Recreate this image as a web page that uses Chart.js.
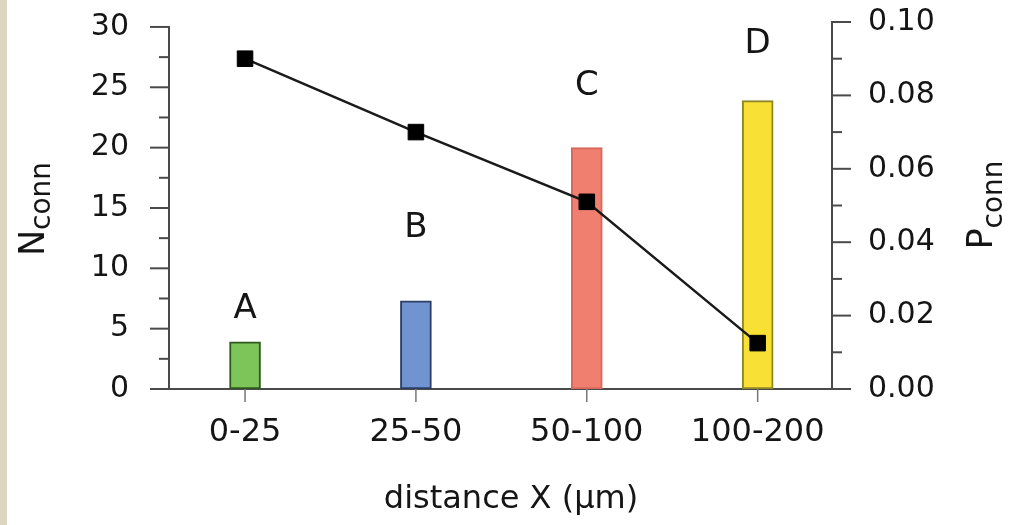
<!DOCTYPE html>
<html lang="en">
<head>
<meta charset="UTF-8">
<title>Nconn and Pconn versus distance</title>
<script src="https://cdn.jsdelivr.net/npm/chart.js"></script>
<style>
    body {
        margin: 0;
        background: #fff;
    }
    .chart-container {
        position: relative;
        width: 1019px;
        height: 525px;
    }
</style>
</head>
<body>
<div class="chart-container">
    <canvas id="connChart"></canvas>
</div>
<script>
// distance bins and the two series
const categories = ['0-25', '25-50', '50-100', '100-200'];
const groupLetters = ['A', 'B', 'C', 'D'];
const nConn = [3.9, 7.3, 20, 23.9];
const pConn = [0.090, 0.070, 0.051, 0.0125];
// where the letters sit, in N_conn units
const letterHeights = [6.6, 13.3, 25.1, 28.6];
const nTicks = [0, 5, 10, 15, 20, 25, 30];
const pTicks = [0, 0.02, 0.04, 0.06, 0.08, 0.10];

const barColors = ['#7dc459', '#7094d1', '#f07f70', '#f8e134'];
const barEdges = ['#2e5a1f', '#2c3d66', '#d5695b', '#8e8529'];

const FONT = "'DejaVu Sans', sans-serif";
const INK = '#151515';
const AXIS = '#4a4a4a';

function seg(ctx, x1, y1, x2, y2) {
    ctx.beginPath();
    ctx.moveTo(x1, y1);
    ctx.lineTo(x2, y2);
    ctx.stroke();
}

// rotated title with a subscript, baseline at bx, centred on cy
function subTitle(ctx, main, sub, bx, cy, drop) {
    ctx.save();
    ctx.translate(bx, cy);
    ctx.rotate(-Math.PI / 2);
    ctx.textAlign = 'left';
    ctx.textBaseline = 'alphabetic';
    ctx.font = `35px ${FONT}`;
    const wm = ctx.measureText(main).width;
    ctx.font = `28px ${FONT}`;
    const ws = ctx.measureText(sub).width;
    const start = -(wm + ws) / 2;
    ctx.font = `35px ${FONT}`;
    ctx.fillText(main, start, 0);
    ctx.font = `28px ${FONT}`;
    ctx.fillText(sub, start + wm, drop);
    ctx.restore();
}

// no automatic margins for overflowing tick labels
function noMargins(s) {
    s.paddingTop = 0;
    s.paddingBottom = 0;
    s.paddingLeft = 0;
    s.paddingRight = 0;
}

const decorations = {
    id: 'decorations',
    beforeDraw(chart) {
        const ctx = chart.ctx;
        ctx.save();
        ctx.fillStyle = '#fff';
        ctx.fillRect(0, 0, chart.width, chart.height);
        ctx.fillStyle = '#dcd6c1';
        ctx.fillRect(0, 0, 7, chart.height);
        ctx.restore();
    },
    afterDraw(chart) {
        const ctx = chart.ctx;
        const a = chart.chartArea;
        const x = chart.scales.x, y = chart.scales.y, y1 = chart.scales.y1;
        ctx.save();
        ctx.strokeStyle = AXIS;
        ctx.lineWidth = 2;
        // left axis line stops at 30
        seg(ctx, a.left, y.getPixelForValue(30) - 1, a.left, a.bottom);
        // left axis: major every 5, minor every 2.5
        for (let v = 0; v <= 30; v += 2.5) {
            const len = v % 5 === 0 ? 19 : 10;
            const py = y.getPixelForValue(v);
            seg(ctx, a.left - len, py, a.left, py);
        }
        // right axis: major every 0.02, minor every 0.01
        for (let i = 0; i <= 10; i++) {
            const len = i % 2 === 0 ? 19 : 10;
            const py = y1.getPixelForValue(i / 100);
            seg(ctx, a.right, py, a.right + len, py);
        }
        ctx.strokeStyle = '#777';
        ctx.lineWidth = 1.5;
        categories.forEach((c, i) => {
            const px = x.getPixelForValue(i);
            seg(ctx, px, a.bottom, px, a.bottom + 13);
        });

        ctx.fillStyle = INK;
        ctx.font = `34px ${FONT}`;
        ctx.textAlign = 'center';
        ctx.textBaseline = 'middle';
        groupLetters.forEach((l, i) => {
            ctx.fillText(l, x.getPixelForValue(i), y.getPixelForValue(letterHeights[i]));
        });

        ctx.textBaseline = 'alphabetic';
        ctx.font = `32px ${FONT}`;
        ctx.fillText('distance X (µm)', 511, 508);

        subTitle(ctx, 'N', 'conn', 44, 209, 6);
        subTitle(ctx, 'P', 'conn', 992, 205, 10);
        ctx.restore();
    }
};

const ctx = document.getElementById('connChart').getContext('2d');
new Chart(ctx, {
    type: 'bar',
    data: {
        datasets: [
            {
                type: 'line',
                data: pConn.map((v, i) => ({ x: i, y: v })),
                yAxisID: 'y1',
                borderColor: '#1a1a1a',
                borderWidth: 2.5,
                pointStyle: 'rect',
                pointRadius: 11,
                pointBackgroundColor: '#000',
                pointBorderColor: '#000',
                pointBorderWidth: 1,
                tension: 0,
                order: 0
            },
            {
                type: 'bar',
                data: nConn.map((v, i) => ({ x: i, y: v })),
                yAxisID: 'y',
                backgroundColor: barColors,
                borderColor: barEdges,
                borderWidth: 2,
                borderSkipped: false,
                barThickness: 31,
                order: 1
            }
        ]
    },
    options: {
        responsive: true,
        maintainAspectRatio: false,
        animation: false,
        layout: { padding: { top: 22, left: 0, right: 0, bottom: 0 } },
        plugins: {
            legend: { display: false },
            tooltip: { enabled: false }
        },
        scales: {
            x: {
                type: 'linear',
                offset: false,
                min: -0.445,
                max: 3.435,
                grid: { display: false, drawTicks: false, offset: false },
                border: { display: true, color: AXIS, width: 2 },
                afterBuildTicks: s => { s.ticks = categories.map((c, i) => ({ value: i })); },
                afterFit: s => { s.height = 136; noMargins(s); },
                ticks: {
                    callback: v => categories[v],
                    font: { family: FONT, size: 32 },
                    color: INK,
                    padding: 24,
                    autoSkip: false,
                    maxRotation: 0
                }
            },
            y: {
                position: 'left',
                min: 0,
                max: 30.41,
                grid: { display: false, drawTicks: false },
                border: { display: false },
                afterBuildTicks: s => { s.ticks = nTicks.map(v => ({ value: v })); },
                afterFit: s => { s.width = 169; noMargins(s); },
                ticks: {
                    font: { family: FONT, size: 30 },
                    color: INK,
                    padding: 40
                }
            },
            y1: {
                position: 'right',
                min: 0,
                max: 0.1,
                grid: { display: false, drawTicks: false },
                border: { display: true, color: AXIS, width: 2 },
                afterBuildTicks: s => { s.ticks = pTicks.map(v => ({ value: v })); },
                afterFit: s => { s.width = 187; noMargins(s); },
                ticks: {
                    callback: v => v.toFixed(2),
                    font: { family: FONT, size: 30 },
                    color: INK,
                    padding: 36
                }
            }
        }
    },
    plugins: [decorations]
});
</script>
</body>
</html>
